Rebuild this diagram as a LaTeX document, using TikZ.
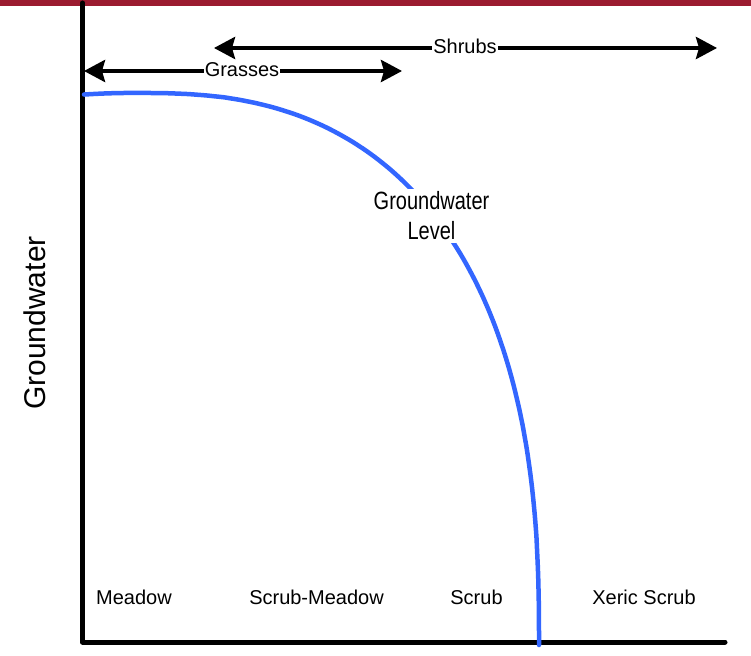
\documentclass[tikz,border=0pt]{standalone}
\usepackage{fontspec}
\setmainfont{Liberation Sans}
\newfontfamily\narrowfont[FakeStretch=0.8]{Liberation Sans}
\usetikzlibrary{arrows.meta}
\definecolor{topbar}{RGB}{155,27,48}
\definecolor{waterblue}{RGB}{51,102,255}
\tikzset{
  axisline/.style={line width=5pt, line cap=round, line join=round},
  rangearrow/.style={line width=4pt, {Stealth[length=21pt,width=22pt,inset=3pt]}-{Stealth[length=21pt,width=22pt,inset=3pt]}},
  rangelabel/.style={fill=white, inner sep=1pt, anchor=base, font=\fontsize{20}{24}\selectfont},
  zonelabel/.style={anchor=base, inner sep=0pt, font=\fontsize{20}{24}\selectfont},
  levelcurve/.style={line width=4.5pt, waterblue, line cap=round},
}
\begin{document}
\begin{tikzpicture}[x=1pt, y=-1pt]
  \useasboundingbox (0,0) rectangle (751,655);
  % header bar
  \fill[topbar] (0,0) rectangle (751,6.5);

  % axes
  \coordinate (top) at (82.5,3);
  \coordinate (origin) at (82.5,642);
  \coordinate (right) at (725,642);
  \draw[axisline] (top) -- (origin) -- (right);

  % vertical axis title
  \node[rotate=90, font=\fontsize{30}{36}\selectfont] (ytitle) at (35,323) {Groundwater};

  % groundwater level curve (superellipse quadrant)
  \draw[levelcurve] plot[domain=94.9:0.3, samples=96, smooth]
    ({140+399*sign(cos(\x))*pow(abs(cos(\x)),0.8)}, {645-552*pow(sin(\x),0.8)})
    -- (539,645);
  \node[fill=white, inner sep=3pt, align=center,
        font=\narrowfont\fontsize{25}{30}\selectfont] (level) at (431.5,216) {Groundwater\\Level};

  % vegetation ranges
  \coordinate (grassL) at (84,71);
  \coordinate (grassR) at (402,71);
  \coordinate (shrubL) at (214,48);
  \coordinate (shrubR) at (717,48);
  \draw[rangearrow] (shrubL) -- (shrubR);
  \draw[rangearrow] (grassL) -- (grassR);
  \node[rangelabel] (shrubs) at (465,54) {Shrubs};
  \node[rangelabel] (grasses) at (242,77) {Grasses};

  % zones along the bottom
  \node[zonelabel] (meadow) at (134,604) {Meadow};
  \node[zonelabel] (scrubmeadow) at (316.5,604) {Scrub-Meadow};
  \node[zonelabel] (scrub) at (476.5,604) {Scrub};
  \node[zonelabel] (xeric) at (644,604) {Xeric Scrub};
\end{tikzpicture}
\end{document}
